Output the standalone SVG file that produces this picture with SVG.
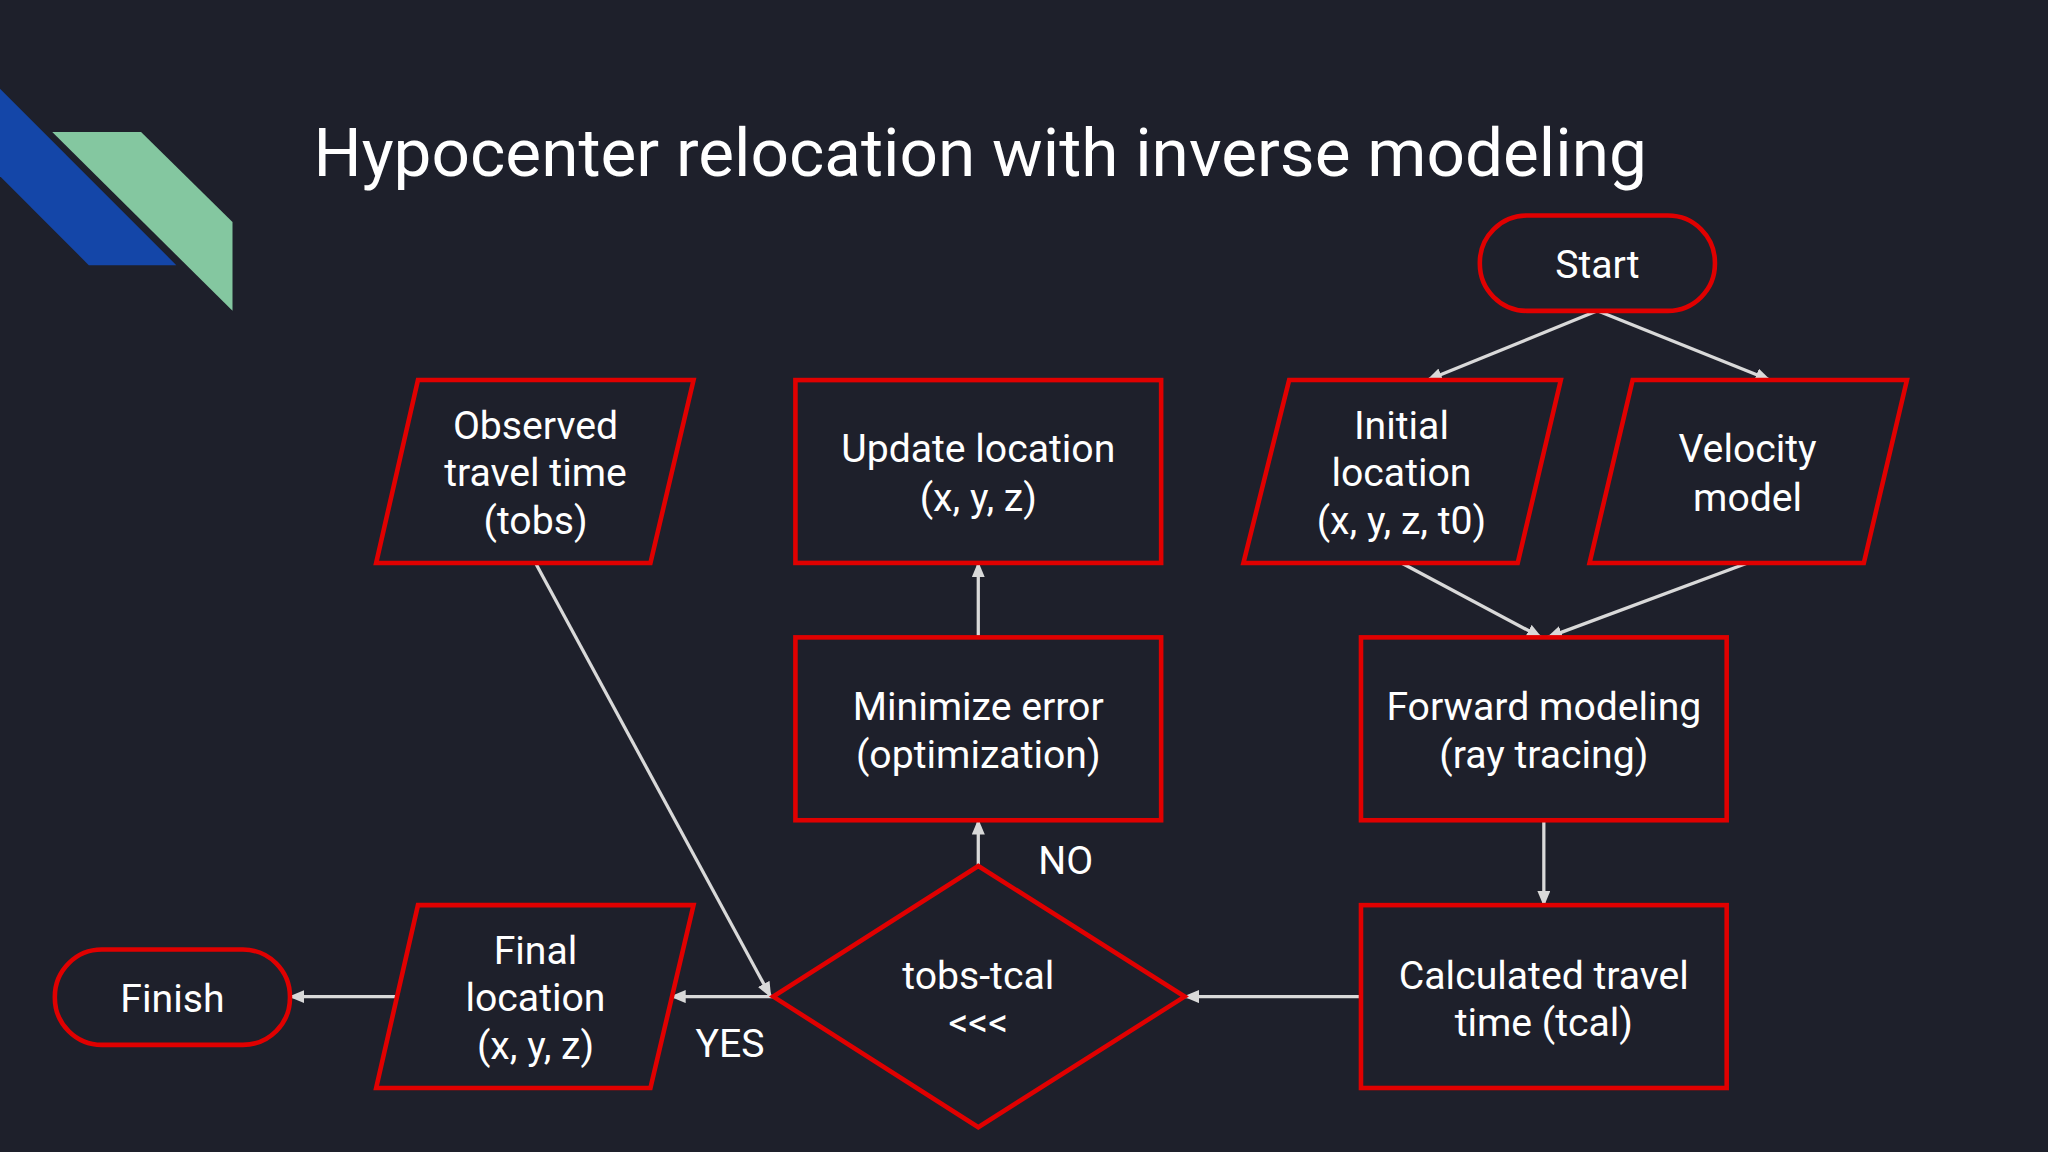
<svg xmlns="http://www.w3.org/2000/svg" width="2048" height="1152" viewBox="0 0 2048 1152">
<defs>
<marker id="ah" markerWidth="12" markerHeight="10" refX="11" refY="5" orient="auto" markerUnits="userSpaceOnUse" viewBox="0 0 12 10"><path d="M0,0 L12,5 L0,10 z" fill="#d9d9d9"/></marker>
<style>
.n{fill:#1e202b;stroke:#e00000;stroke-width:3.5}
.t{font-family:Roboto,"Liberation Sans",sans-serif;font-size:30px;fill:#ffffff;text-anchor:middle}
.c{stroke:#d9d9d9;stroke-width:2.5;fill:none;marker-end:url(#ah)}
</style>
</defs>
<rect width="2048" height="1152" fill="#1e202b"/>
<g transform="scale(1.30612)">
<g id="deco">
<polygon points="0,68 135,203 68,203 0,135" fill="#1446a8"/>
<polygon points="40,101 108,101 178,170 178,238" fill="#84c7a0"/>
</g>
<text x="240" y="135" font-family="Roboto,'Liberation Sans',sans-serif" font-size="51.7" fill="#ffffff">Hypocenter relocation with inverse modeling</text>
<g id="connectors">
<line class="c" x1="1223" y1="238" x2="1093" y2="291"/>
<line class="c" x1="1223" y1="238" x2="1355" y2="291"/>
<line class="c" x1="1073" y1="431" x2="1180" y2="488"/>
<line class="c" x1="1338" y1="431" x2="1185" y2="488"/>
<line class="c" x1="1182" y1="628" x2="1182" y2="693"/>
<line class="c" x1="1042" y1="763" x2="907" y2="763"/>
<line class="c" x1="749" y1="663" x2="749" y2="628"/>
<line class="c" x1="749" y1="488" x2="749" y2="431"/>
<line class="c" x1="592" y1="763" x2="514" y2="763"/>
<line class="c" x1="305" y1="763" x2="222" y2="763"/>
<line class="c" x1="410" y1="431" x2="590" y2="763"/>
<text class="t" x="816" y="669">NO</text>
<text class="t" x="559" y="809">YES</text>
</g>
<g id="start"><rect class="n" x="1133" y="165" width="180" height="73" rx="36"/><text class="t" x="1223" y="213">Start</text></g>
<g id="observed"><polygon class="n" points="320,291 531,291 498,431 288,431"/><text class="t" x="410" y="336">Observed</text><text class="t" x="410" y="372">travel time</text><text class="t" x="410" y="409">(tobs)</text></g>
<g id="update"><rect class="n" x="609" y="291" width="280" height="140"/><text class="t" x="749" y="354">Update location</text><text class="t" x="749" y="391">(x, y, z)</text></g>
<g id="initial"><polygon class="n" points="987,291 1195,291 1162,431 952,431"/><text class="t" x="1073" y="336">Initial</text><text class="t" x="1073" y="372">location</text><text class="t" x="1073" y="409">(x, y, z, t0)</text></g>
<g id="velocity"><polygon class="n" points="1250,291 1460,291 1427,431 1217,431"/><text class="t" x="1338" y="354">Velocity</text><text class="t" x="1338" y="391">model</text></g>
<g id="minimize"><rect class="n" x="609" y="488" width="280" height="140"/><text class="t" x="749" y="551">Minimize error</text><text class="t" x="749" y="588">(optimization)</text></g>
<g id="forward"><rect class="n" x="1042" y="488" width="280" height="140"/><text class="t" x="1182" y="551">Forward modeling</text><text class="t" x="1182" y="588">(ray tracing)</text></g>
<g id="calculated"><rect class="n" x="1042" y="693" width="280" height="140"/><text class="t" x="1182" y="757">Calculated travel</text><text class="t" x="1182" y="793">time (tcal)</text></g>
<g id="decision"><polygon class="n" points="749,663 907,763 749,863 592,763"/><text class="t" x="749" y="757">tobs-tcal</text><text class="t" x="749" y="793">&lt;&lt;&lt;</text></g>
<g id="final"><polygon class="n" points="320,693 531,693 498,833 288,833"/><text class="t" x="410" y="738">Final</text><text class="t" x="410" y="774">location</text><text class="t" x="410" y="811">(x, y, z)</text></g>
<g id="finish"><rect class="n" x="42" y="727" width="180" height="73" rx="36"/><text class="t" x="132" y="775">Finish</text></g>
</g>
</svg>
